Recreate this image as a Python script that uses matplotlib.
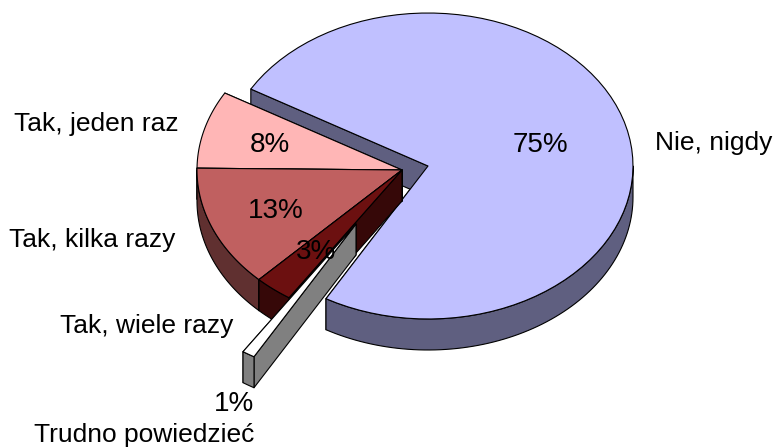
import numpy as np
import matplotlib
matplotlib.use('Agg')
import matplotlib.pyplot as plt
from matplotlib.patches import Polygon

plt.rcParams['font.family'] = ['Liberation Sans', 'DejaVu Sans']

# data, going anticlockwise from the back edge of the big slice
labels = ['Nie, nigdy', 'Tak, jeden raz', 'Tak, kilka razy', 'Tak, wiele razy', 'Trudno powiedzieć']
shares = [74.9, 8.2, 12.9, 3.0, 1.0]
pct_labels = ['75%', '8%', '13%', '3%', '1%']

# slice styling
top_cols = ['#C0C0FF', '#FFB6B6', '#C06060', '#6C1010', '#FFFFFF']
wall_cols = ['#5F5F80', '#7F5B5B', '#603030', '#360808', '#808080']
apex = [(428, 166), (402, 170), (402, 170), (402, 170), (356, 224)]

rx, ry = 205, 153
depth = 31
start = 149.8


def arc(c, a1, a2, dy=0, n=80):
    t = np.radians(np.linspace(a1, a2, n))
    return np.column_stack([c[0] + rx * np.cos(t), c[1] - ry * np.sin(t) + dy])


def patch(ax, pts, col):
    ax.add_patch(Polygon(pts, closed=True, facecolor=col, edgecolor='black', lw=0.8, joinstyle='round'))


def draw_slice(ax, c, a1, a2, top, wall):
    # a1 -> a2 anticlockwise, angles in degrees
    p1 = arc(c, a1, a1, n=1)[0]
    p2 = arc(c, a2, a2, n=1)[0]
    patch(ax, [c, p1, p1 + [0, depth], np.array(c) + [0, depth]], wall)
    patch(ax, [c, p2, p2 + [0, depth], np.array(c) + [0, depth]], wall)
    # outer wall, front part of the rim only
    for lo, hi in [(180, 360), (540, 720)]:
        lo = max(a1, lo)
        hi = min(a2, hi)
        if hi > lo:
            patch(ax, np.vstack([arc(c, lo, hi), arc(c, hi, lo, depth)]), wall)
    patch(ax, np.vstack([[c], arc(c, a1, a2)]), top)


fig = plt.figure(figsize=(7.74, 4.48), dpi=100)
ax = fig.add_axes([0, 0, 1, 1])
ax.set_xlim(0, 774)
ax.set_ylim(448, 0)
ax.axis('off')

# angle limits of each slice
sweeps = np.array(shares) * 3.6
big = (start - sweeps[0], start)
bounds = [start]
for s in sweeps[1:]:
    bounds.append(bounds[-1] + s)

# big slice first, small ones sit on top of it
draw_slice(ax, apex[0], big[0] + 360, big[1] + 360, top_cols[0], wall_cols[0])
for i in [1, 2, 3, 4]:
    draw_slice(ax, apex[i], bounds[i - 1], bounds[i], top_cols[i], wall_cols[i])

# names
name_pos = [(714, 143), (96, 124), (92, 240), (147, 326), (144, 435)]
for name, pos in zip(labels, name_pos):
    ax.text(pos[0], pos[1], name, fontsize=19, ha='center', va='center', color='black')

# percent labels
pct_pos = [(540, 145), (270, 145), (276, 211), (316, 252), (234, 404)]
for txt, pos in zip(pct_labels, pct_pos):
    ax.text(pos[0], pos[1], txt, fontsize=20, ha='center', va='center', color='black')

fig.savefig('out.png', dpi=100)
